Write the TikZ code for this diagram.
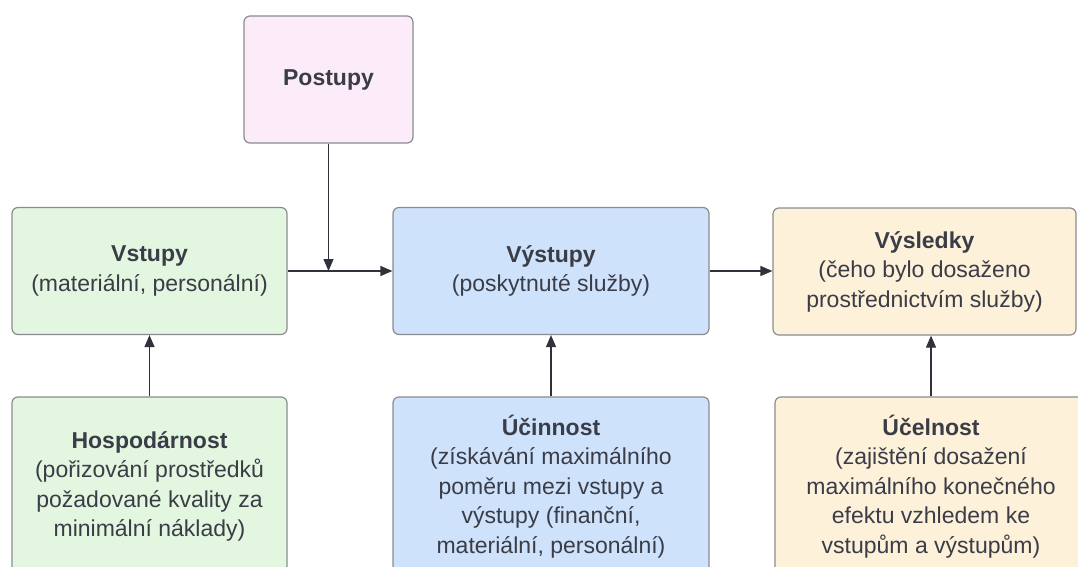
\documentclass[tikz,border=0pt]{standalone}
\usepackage{fontspec}
\setmainfont{Liberation Sans}
\usetikzlibrary{arrows.meta}

\definecolor{txt}{HTML}{3A3D47}
\definecolor{edge}{HTML}{8A8C92}
\definecolor{arrowc}{HTML}{30323B}
\definecolor{greenfill}{HTML}{E3F6E0}
\definecolor{bluefill}{HTML}{CFE2FB}
\definecolor{yellowfill}{HTML}{FDF1DA}
\definecolor{pinkfill}{HTML}{FCEBF8}

\tikzset{
  box/.style={draw=edge, line width=1.2pt, rounded corners=6pt, align=center,
    inner sep=0pt, text=txt, font=\fontsize{23}{29.5}\selectfont},
  toprow/.style={box, minimum height=127pt},
  lowrow/.style={box, minimum height=179pt},
  arr/.style={draw=arrowc, line width=1.2pt, -{Triangle[length=12pt,width=10pt]}}
}

\begin{document}
\begin{tikzpicture}[x=1pt,y=-1pt]
  \useasboundingbox (0,0) rectangle (1078,567);
  \clip (0,0) rectangle (1078,567);
  \fill[white] (0,0) rectangle (1078,567);

  % upper row
  \node[toprow, fill=pinkfill, minimum width=169pt] (post) at (328.5,79.5) {\textbf{Postupy}};
  \node[toprow, fill=greenfill, minimum width=275pt] (vst) at (149.5,271)
    {\textbf{Vstupy}\\(materiální, personální)};
  \node[toprow, fill=bluefill, minimum width=316pt] (vys) at (551,271)
    {\textbf{Výstupy}\\(poskytnuté služby)};
  \node[toprow, fill=yellowfill, minimum width=303pt] (vsl) at (924.5,271.5)
    {\textbf{Výsledky}\\(čeho bylo dosaženo\\prostřednictvím služby)};

  % lower row
  \node[lowrow, fill=greenfill, minimum width=275pt] (hosp) at (149.5,486.5)
    {\textbf{Hospodárnost}\\(pořizování prostředků\\požadované kvality za\\minimální náklady)};
  \node[lowrow, fill=bluefill, minimum width=316pt] (ucin) at (551,486.5)
    {\textbf{Účinnost}\\(získávání maximálního\\poměru mezi vstupy a\\výstupy (finanční,\\materiální, personální)};
  \node[lowrow, fill=yellowfill, minimum width=312pt] (ucel) at (931,486.5)
    {\textbf{Účelnost}\\(zajištění dosažení\\maximálního konečného\\efektu vzhledem ke\\vstupům a výstupům)};

  % connectors
  \draw[arr] (vst.east) -- (vys.west);
  \draw[arr] (post.south) -- (post.south |- vst.east);
  \draw[arr] (vys.east) -- (vys.east -| vsl.west);
  \draw[arr] (hosp.north) -- (vst.south);
  \draw[arr] (ucin.north) -- (vys.south);
  \draw[arr] (ucel.north) -- (ucel.north |- vsl.south);
\end{tikzpicture}
\end{document}
